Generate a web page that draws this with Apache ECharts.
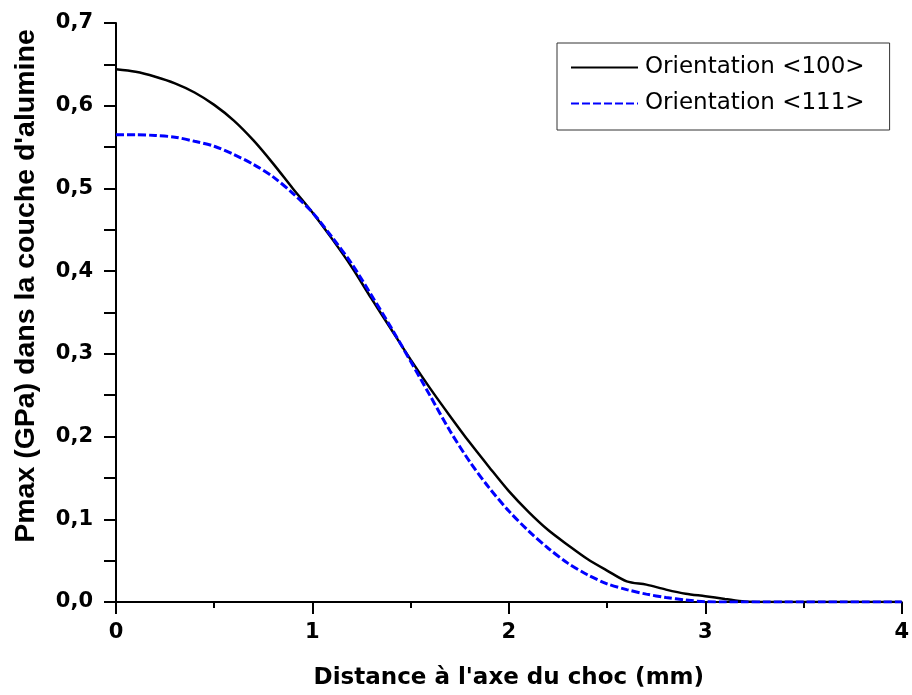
<!DOCTYPE html>
<html>
<head>
<meta charset="utf-8">
<script src="https://cdn.jsdelivr.net/npm/echarts@6/dist/echarts.min.js"></script>
<style>
html,body{margin:0;padding:0;background:#fff;}
#chart{width:912px;height:695px;}
</style>
</head>
<body>
<div id="chart"></div>
<script>
const distances = [0.0,0.1,0.2,0.3,0.4,0.5,0.6,0.7,0.8,0.9,1.0,1.1,1.2,1.3,1.4,1.5,1.6,1.7,1.8,1.9,2.0,2.1,2.2,2.3,2.4,2.5,2.6,2.7,2.8,2.9,3.0,3.1,3.2,3.3,3.4,3.5,3.6,3.7,3.8,3.9,4.0];
const orient100 = [0.644,0.641,0.635,0.627,0.616,0.601,0.582,0.558,0.530,0.500,0.471,0.439,0.405,0.367,0.330,0.293,0.258,0.225,0.193,0.163,0.134,0.109,0.087,0.069,0.052,0.038,0.025,0.021,0.015,0.010,0.007,0.0037,0.0005,0,0,0,0,0,0,0,0];
const orient111 = [0.565,0.565,0.564,0.562,0.557,0.551,0.541,0.529,0.514,0.494,0.471,0.441,0.409,0.371,0.332,0.291,0.249,0.207,0.170,0.138,0.110,0.086,0.065,0.047,0.033,0.022,0.015,0.0095,0.0055,0.0025,0.0003,0,0,0,0,0,0,0,0,0,0];
const seriesNames = ['Orientation <100>','Orientation <111>'];
const xTitle = "Distance à l'axe du choc (mm)";
const yTitle = "Pmax (GPa) dans la couche d'alumine";

const chart = echarts.init(document.getElementById('chart'), null, {renderer:'canvas'});
const pairs = (ys) => distances.map((x,i)=>[x, ys[i]]);
const tickFont = {fontFamily:'DejaVu Sans', fontWeight:'bold', fontSize:21, color:'#000'};

chart.setOption({
  animation:false,
  backgroundColor:'#fff',
  grid:{left:116, right:6, top:23, bottom:92},
  legend:{
    left:557, top:43, orient:'vertical',
    padding:[13,25,15,13],
    itemWidth:67, itemHeight:14, itemGap:13,
    borderColor:'#333', borderWidth:1,
    itemStyle:{opacity:0},
    textStyle:{fontFamily:'DejaVu Sans', fontSize:23, color:'#000', padding:[0,0,0,2]},
    data:seriesNames
  },
  xAxis:{
    type:'value', min:0, max:4, interval:1,
    name:xTitle, nameLocation:'middle', nameGap:65,
    nameTextStyle:{fontFamily:'DejaVu Sans', fontWeight:'bold', fontSize:23, color:'#000'},
    axisLine:{show:true, onZero:false, lineStyle:{color:'#000', width:2}},
    axisTick:{show:true, inside:false, length:12, lineStyle:{color:'#000', width:2}},
    minorTick:{show:true, splitNumber:2, length:6, lineStyle:{color:'#000', width:2}},
    splitLine:{show:false},
    axisLabel:Object.assign({margin:20}, tickFont)
  },
  yAxis:{
    type:'value', min:0, max:0.7, interval:0.1,
    axisLine:{show:true, onZero:false, lineStyle:{color:'#000', width:2}},
    axisTick:{show:true, inside:false, length:12, lineStyle:{color:'#000', width:2}},
    minorTick:{show:true, splitNumber:2, length:12, lineStyle:{color:'#000', width:2}},
    splitLine:{show:false},
    axisLabel:Object.assign({margin:23, formatter:(v)=>v.toFixed(1).replace('.',',')}, tickFont)
  },
  graphic:[{
    type:'text', x:26, y:286, rotation:Math.PI/2,
    style:{text:yTitle, fontFamily:'Liberation Sans', fontWeight:'bold', fontSize:28.5, fill:'#000', align:'center', verticalAlign:'middle'}
  }],
  series:[
    {name:seriesNames[0], type:'line', data:pairs(orient100), showSymbol:false, symbol:'none', smooth:0.3,
     lineStyle:{color:'#000', width:2.5}, itemStyle:{color:'#000'}},
    {name:seriesNames[1], type:'line', data:pairs(orient111), showSymbol:false, symbol:'none', smooth:0.3,
     lineStyle:{color:'#0000ff', width:3, type:[8,3]}, itemStyle:{color:'#0000ff'}}
  ]
});
</script>
</body>
</html>
